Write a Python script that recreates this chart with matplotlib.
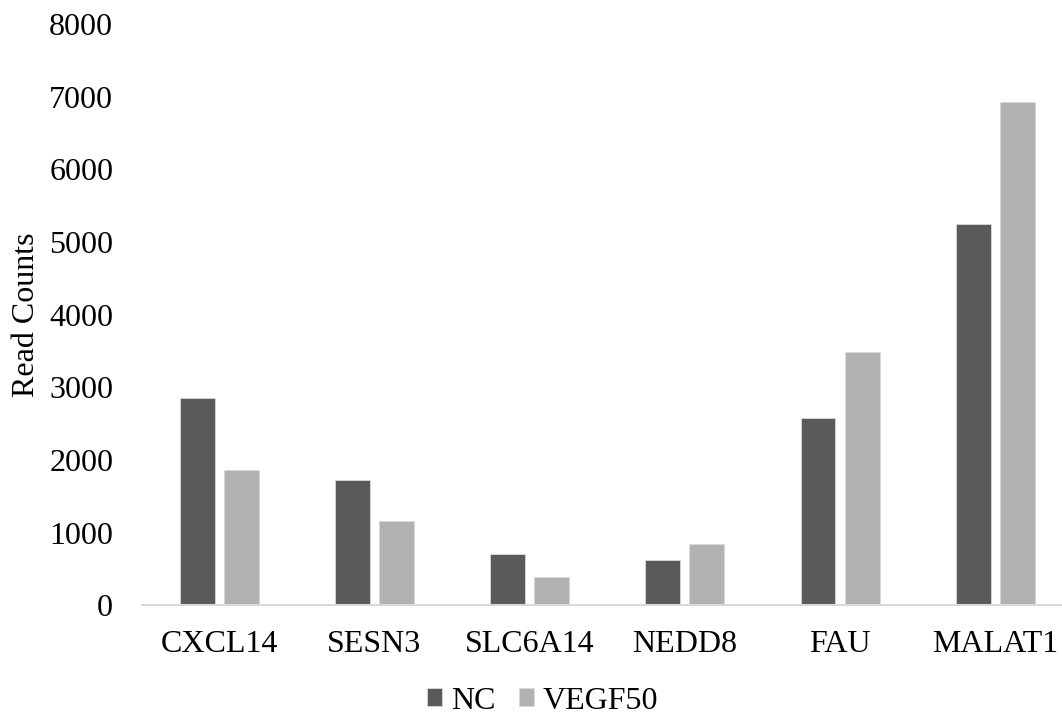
import numpy as np
import matplotlib.pyplot as plt

# data
genes = ['CXCL14', 'SESN3', 'SLC6A14', 'NEDD8', 'FAU', 'MALAT1']
nc = [2850, 1725, 708, 630, 2578, 5250]
vegf50 = [1860, 1162, 396, 842, 3486, 6926]

plt.rcParams['font.family'] = ['Liberation Serif', 'DejaVu Serif']

fig = plt.figure(figsize=(10.62, 7.19), dpi=100)
ax = fig.add_axes([0.1334, 0.158, 0.8768, 0.8088])

x = np.arange(len(genes))
w = 0.225
off = 0.142
ax.bar(x - off, nc, w, color='#5a5a5a', label='NC',
       edgecolor='#d9d9d9', linewidth=0.6)
ax.bar(x + off, vegf50, w, color='#b2b2b2', label='VEGF50',
       edgecolor='#d9d9d9', linewidth=0.6)

ax.set_xlim(-0.5, len(genes) - 0.5)
ax.set_ylim(0, 8000)
ax.set_yticks(range(0, 8001, 1000))
ax.set_xticks(x)
ax.set_xticklabels(genes)
ax.tick_params(axis='both', length=0, labelsize=23, colors='black')
ax.tick_params(axis='x', pad=18)
ax.tick_params(axis='y', pad=20.5)

for s in ['top', 'right', 'left']:
    ax.spines[s].set_visible(False)
ax.spines['bottom'].set_color('#d9d9d9')
ax.spines['bottom'].set_linewidth(1.5)

ax.set_ylabel('Read Counts', fontsize=23, labelpad=6)

fig.legend(loc='center', bbox_to_anchor=(0.511, 0.025), ncol=2,
           frameon=False, fontsize=23, handlelength=0.47, handleheight=0.47,
           handletextpad=0.28, columnspacing=0.72, borderpad=0)

fig.savefig('out.png', dpi=100)
